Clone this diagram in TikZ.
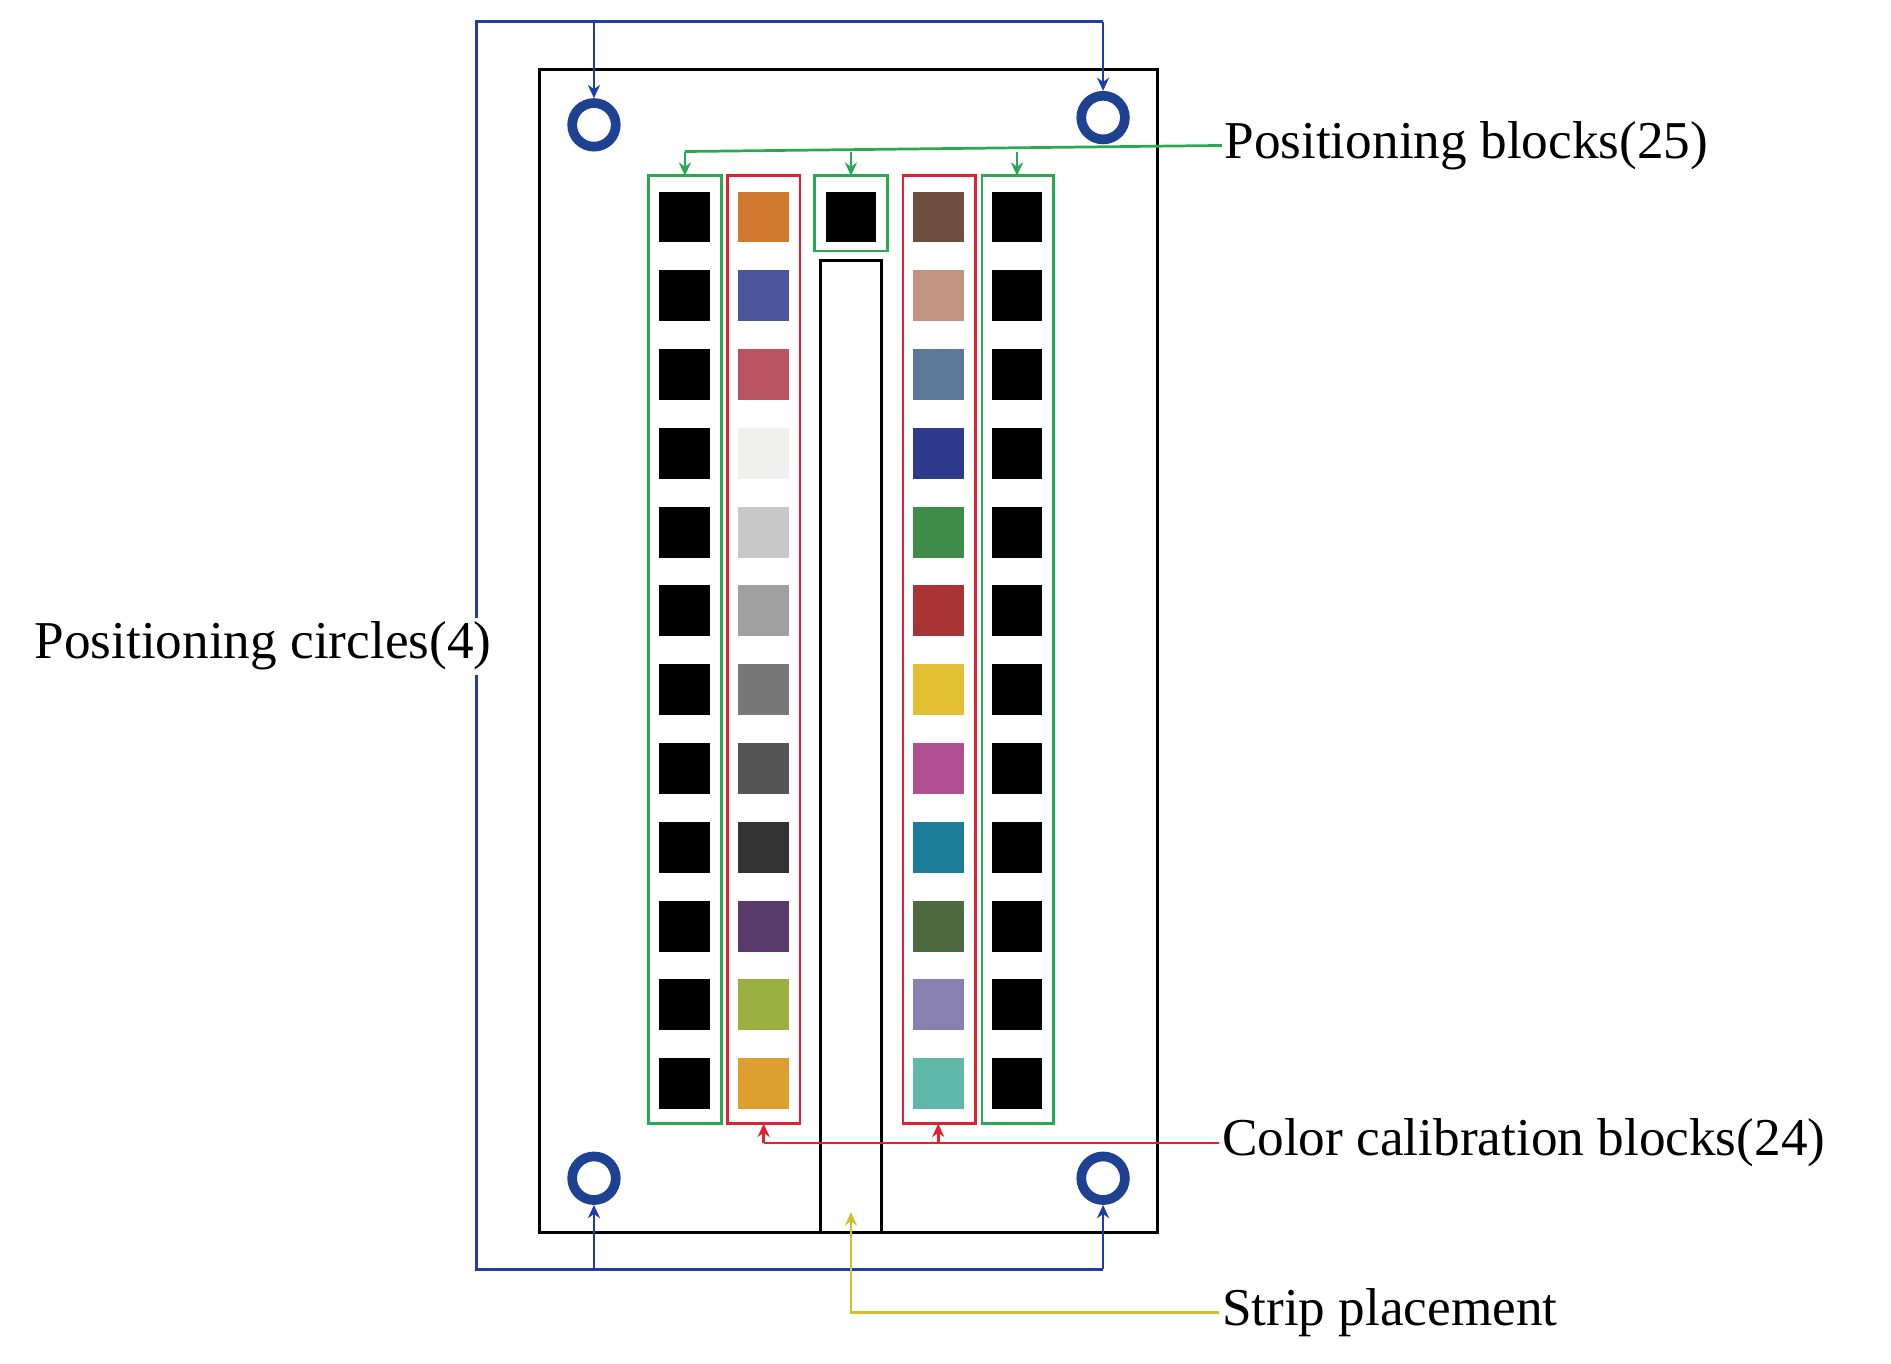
\documentclass[tikz,border=0pt]{standalone}
\usepackage{fontspec}
\setmainfont{Liberation Serif}
\usetikzlibrary{arrows.meta}
\begin{document}
\begin{tikzpicture}[x=0.02cm,y=-0.02cm,
  lbl/.style={font=\fontsize{25}{28}\selectfont,inner sep=1pt},
  con/.style={line width=0.45mm,-{Stealth[length=2.2mm,width=2mm]}},
  sq/.style={minimum size=0.84cm,inner sep=0pt,draw=none},
  circ/.style={circle,draw={rgb,255:red,30;green,65;blue,145},line width=1.6mm,minimum size=0.72cm,inner sep=0pt}]
\definecolor{gr}{RGB}{40,170,80}
\definecolor{rd}{RGB}{230,30,50}
\definecolor{bl}{RGB}{30,60,170}
\definecolor{yl}{RGB}{210,190,40}
\useasboundingbox (0,0) rectangle (1560,1125);
% board
\draw[line width=0.5mm] (445,57) rectangle (955,1017);
\draw[line width=0.45mm] (677,215) rectangle (727,1017);
% circles
\node[circ] (c1) at (490,103) {};
\node[circ] (c2) at (910,97) {};
\node[circ] (c3) at (490,972) {};
\node[circ] (c4) at (910,972) {};
% group boxes
\draw[gr,line width=0.45mm] (535,145) rectangle (595,927);
\draw[gr,line width=0.45mm] (672,145) rectangle (732,207);
\draw[gr,line width=0.45mm] (810,145) rectangle (869,927);
\draw[rd,line width=0.45mm] (600,145) rectangle (660,927);
\draw[rd,line width=0.45mm] (745,145) rectangle (805,927);
% black squares
\foreach \i in {0,...,11} {
  \node[sq,fill=black] at (565,179+65*\i) {};
  \node[sq,fill=black] at (839,179+65*\i) {};
}
\node[sq,fill=black] at (702,179) {};
% colour squares
\foreach \c [count=\i from 0] in {{208,122,48},{75,85,154},{184,85,96},{240,240,238},{200,200,200},{160,160,160},{120,120,120},{85,85,85},{51,51,51},{90,58,106},{154,176,64},{221,160,48}} {
  \definecolor{tmp}{RGB}{\c}
  \node[sq,fill=tmp] at (630,179+65*\i) {};
}
\foreach \c [count=\i from 0] in {{110,78,62},{192,148,128},{92,120,152},{46,58,140},{62,140,72},{168,52,56},{224,192,48},{176,80,144},{28,126,152},{78,106,64},{136,128,176},{96,184,168}} {
  \definecolor{tmp}{RGB}{\c}
  \node[sq,fill=tmp] at (774,179+65*\i) {};
}
% labels
\node[lbl,anchor=west] (pb) at (1008,120) {Positioning blocks(25)};
\node[lbl,anchor=west] (cc) at (1006,943) {Color calibration blocks(24)};
\node[lbl,anchor=west] (sp) at (1006,1083) {Strip placement};
% blue connectors
\coordinate (b1) at (393,18);
\coordinate (b2) at (393,1047);
\draw[bl,line width=0.45mm] (910,18) -- (b1) -- (b2) -- (910,1047);
\draw[bl,con] (490,18) -- (c1);
\draw[bl,con] (910,18) -- (c2);
\draw[bl,con] (490,1047) -- (c3);
\draw[bl,con] (910,1047) -- (c4);
\node[lbl,fill=white,inner sep=2pt] (pc) at (217,533) {Positioning circles(4)};
% green
\draw[gr,line width=0.45mm] (pb.west) -- (565,125);
\draw[gr,con] (565,125) -- (565,145);
\draw[gr,con] (702,125) -- (702,145);
\draw[gr,con] (839,125) -- (839,145);
% red
\draw[rd,line width=0.45mm] (cc.west) -- (630,943);
\draw[rd,con] (630,943) -- (630,927);
\draw[rd,con] (774,943) -- (774,927);
% yellow
\draw[yl,con] (sp.west) -- (702,1083) -- (702,1000);
\end{tikzpicture}
\end{document}
